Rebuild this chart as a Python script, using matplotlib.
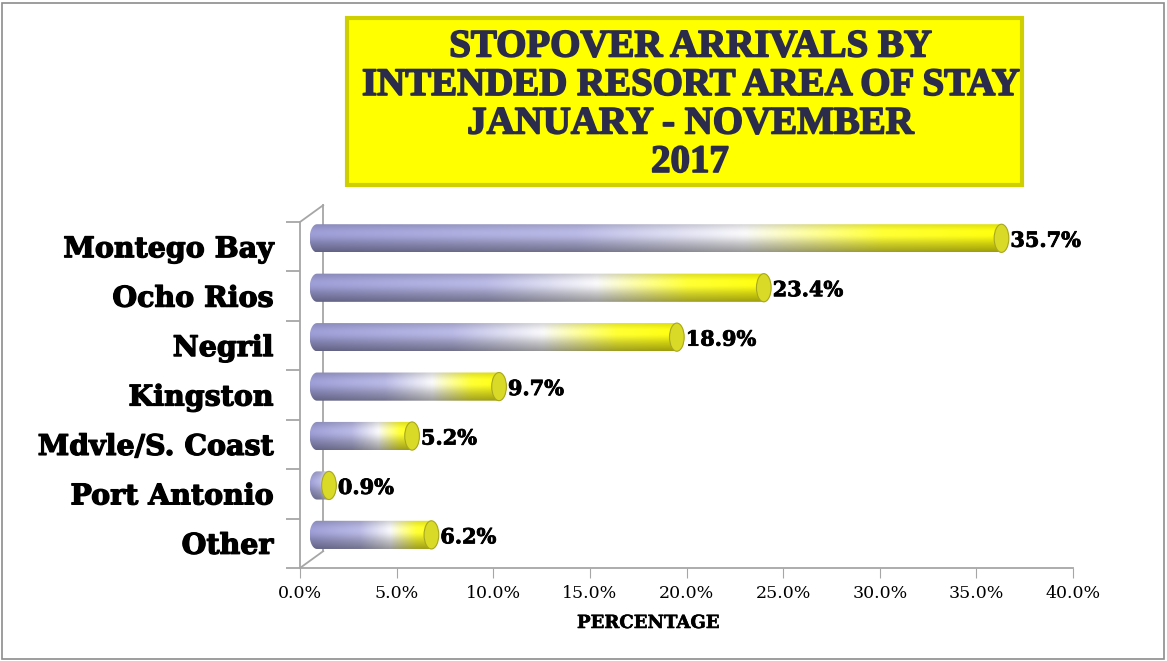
import numpy as np
import matplotlib.pyplot as plt
import matplotlib.patheffects as pe
from matplotlib.patches import Rectangle, Ellipse, PathPatch
from matplotlib.path import Path
from matplotlib.ticker import FuncFormatter

areas = ['Montego Bay', 'Ocho Rios', 'Negril', 'Kingston',
         'Mdvle/S. Coast', 'Port Antonio', 'Other']
shares = [35.7, 23.4, 18.9, 9.7, 5.2, 0.9, 6.2]
title_lines = ['STOPOVER ARRIVALS BY', 'INTENDED RESORT AREA OF STAY',
               'JANUARY - NOVEMBER', '2017']

W, H = 1167, 661
DX = 1.2      # depth of the 3d wall, in percent units
DY = 0.34     # depth of the 3d wall, in category units
BAR_H = 0.57
RX = 0.38     # half width of the end caps
SERIF = 'DejaVu Serif'
TITLE_FONT = 'Liberation Serif'
heavy = [pe.withStroke(linewidth=0.9, foreground='black')]


def bar_gradient(nx=300, ny=60):
    # horizontal colour run: lavender -> white -> yellow
    t = np.linspace(0, 1, nx)
    stops = [0.0, 0.38, 0.62, 0.82, 1.0]
    cols = np.array([[150, 150, 204], [176, 176, 218], [236, 236, 238],
                     [246, 246, 50], [244, 244, 10]]) / 255.0
    base = np.stack([np.interp(t, stops, cols[:, k]) for k in range(3)], axis=-1)
    # vertical shading of a cylinder
    s = np.linspace(0, 1, ny)
    shade = 0.84 + 0.22 * np.exp(-((s - 0.35) / 0.3) ** 2) - 0.2 * s ** 4
    img = base[None, :, :] * shade[:, None, None]
    return np.clip(img, 0, 1)


def cylinder_path(x0, x1, yc, h, rx):
    a = np.linspace(-np.pi / 2, np.pi / 2, 40)
    right = np.column_stack([x1 + rx * np.cos(a), yc + h / 2 * np.sin(a)])
    b = np.linspace(np.pi / 2, 3 * np.pi / 2, 40)
    left = np.column_stack([x0 + rx + rx * np.cos(b), yc + h / 2 * np.sin(b)])
    pts = np.vstack([right, left, right[:1]])
    codes = [Path.MOVETO] + [Path.LINETO] * (len(pts) - 2) + [Path.CLOSEPOLY]
    return Path(pts, codes)


fig = plt.figure(figsize=(W / 100, H / 100), dpi=100)
fig.patches.append(Rectangle((2 / W, 2 / H), 1 - 5 / W, 1 - 5 / H,
                             transform=fig.transFigure, fill=False,
                             edgecolor='#8c8c8c', lw=1.2))

# title box
bx0, bx1, by0, by1 = 347, 1022, 18, 185
fig.patches.append(Rectangle((bx0 / W, 1 - by1 / H), (bx1 - bx0) / W, (by1 - by0) / H,
                             transform=fig.transFigure, facecolor='#ffff00',
                             edgecolor='#cfcf00', lw=3))
for k, line in enumerate(title_lines):
    fig.text(690 / W, 1 - (47 + k * 38.5) / H, line, ha='center', va='center',
             fontsize=28, fontweight='bold', family=TITLE_FONT, color='#2b2c4c',
             path_effects=[pe.withStroke(linewidth=1.2, foreground='#2b2c4c')])

ax = fig.add_axes([300 / W, 1 - 568 / H, (1073 - 300) / W, (568 - 222) / H])
ax.set_xlim(0, 40)
ax.set_ylim(6.5, -0.5)

grad = bar_gradient()
for i, (name, v) in enumerate(zip(areas, shares)):
    yc = i - DY / 2
    x0 = DX / 2 - 0.1
    x1 = v + DX / 2
    path = cylinder_path(x0, x1, yc, BAR_H, RX)
    patch = PathPatch(path, facecolor='none', edgecolor='none')
    ax.add_patch(patch)
    im = ax.imshow(grad, extent=(x0, x1 + RX, yc + BAR_H / 2, yc - BAR_H / 2),
                   aspect='auto', interpolation='bilinear', zorder=2)
    im.set_clip_path(patch)
    ax.add_patch(Ellipse((x1, yc), 2 * RX, BAR_H, facecolor='#d9d927',
                         edgecolor='#a8a820', lw=0.8, zorder=3))
    ax.text(x1 + RX + 0.08, yc + 0.05, '%.1f%%' % v, ha='left', va='center',
            fontsize=15, fontweight='bold', family=SERIF, color='black',
            path_effects=[pe.withStroke(linewidth=0.6, foreground='black')])

ax.set_xlim(0, 40)
ax.set_ylim(6.5, -0.5)

# 3d wall lines
wall = dict(color='#a6a6a6', lw=1.3, clip_on=False, zorder=1)
ax.plot([DX, DX], [-0.5 - DY, 6.5 - DY], **wall)
ax.plot([0, DX], [-0.5, -0.5 - DY], **wall)
ax.plot([0, DX], [6.5, 6.5 - DY], **wall)

for side in ['top', 'right']:
    ax.spines[side].set_visible(False)
for side in ['left', 'bottom']:
    ax.spines[side].set_color('#a6a6a6')
    ax.spines[side].set_linewidth(1.3)

ax.set_xticks(np.arange(0, 45, 5))
ax.xaxis.set_major_formatter(FuncFormatter(lambda x, p: '%.1f%%' % x))
ax.tick_params(axis='x', length=7, color='#a6a6a6', labelsize=12.5, pad=5)
for lab in ax.get_xticklabels():
    lab.set_family(SERIF)

ax.set_yticks(range(len(areas)))
ax.set_yticklabels(areas, family=SERIF, fontweight='bold', fontsize=20.5)
for lab in ax.get_yticklabels():
    lab.set_path_effects(heavy)
ax.set_yticks(np.arange(-0.5, 7, 1), minor=True)
ax.tick_params(axis='y', which='major', length=0, pad=19)
ax.tick_params(axis='y', which='minor', length=10, color='#a6a6a6', width=1.3)

fig.text(648 / W, 1 - 623 / H, 'PERCENTAGE', ha='center', va='center',
         fontsize=13, fontweight='bold', family=SERIF,
         path_effects=[pe.withStroke(linewidth=0.4, foreground='black')])

ax.patch.set_alpha(0)
plt.savefig('out.png', dpi=100)
